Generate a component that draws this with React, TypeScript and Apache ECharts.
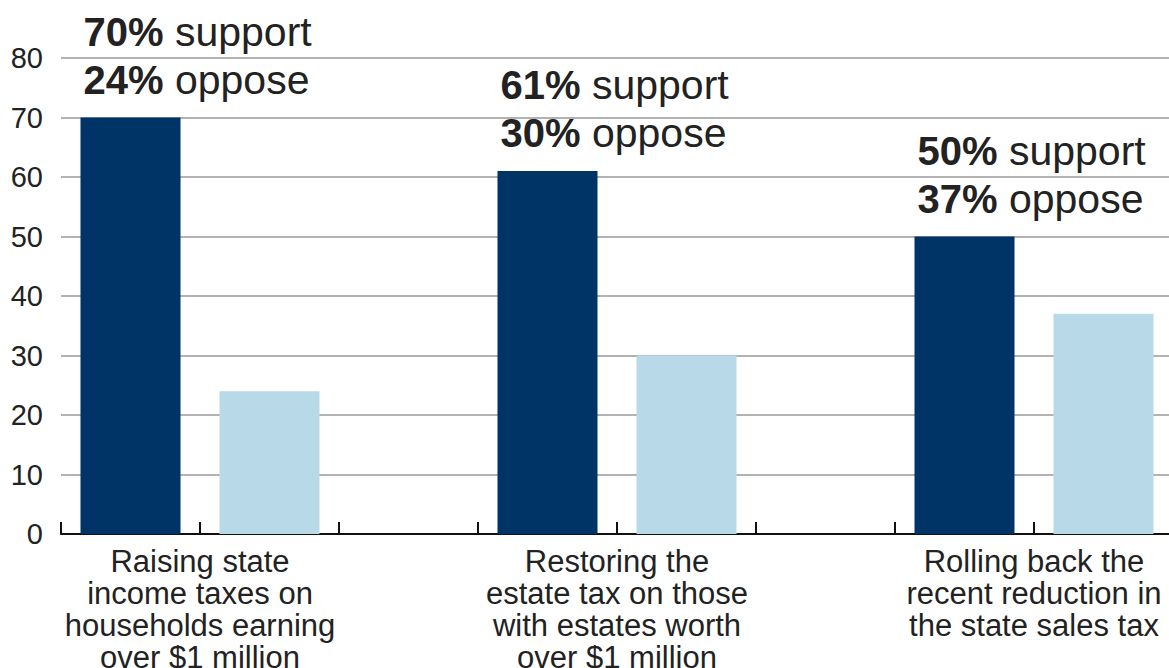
import React, { useEffect, useRef } from "react";
import * as echarts from "echarts";

const categories = [
  "Raising state\nincome taxes on\nhouseholds earning\nover $1 million",
  "Restoring the\nestate tax on those\nwith estates worth\nover $1 million",
  "Rolling back the\nrecent reduction in\nthe state sales tax",
];
const support = [70, 61, 50];
const oppose = [24, 30, 37];
// slot positions on the x scale (each question takes 3 slots: support, oppose, gap)
const supportSlots = [0.5, 3.5, 6.5];
const opposeSlots = [1.5, 4.5, 7.5];
const labelSlots = [1, 4, 7];
const yTicks = [0, 10, 20, 30, 40, 50, 60, 70, 80];

const DARK = "#003366";
const LIGHT = "#b8d9e8";
const FONT = "'Liberation Sans', Arial, Helvetica, sans-serif";

export default function App() {
  const ref = useRef<HTMLDivElement>(null);
  useEffect(() => {
    if (!ref.current) return;
    const chart = echarts.init(ref.current, undefined, { renderer: "svg" });
    const data: any[] = [];
    support.forEach((v, i) => {
      data.push({
        value: [supportSlots[i], v],
        itemStyle: { color: DARK },
        label: {
          show: true,
          position: "top",
          align: "left",
          distance: 14,
          offset: [-47, 0],
          formatter: `{b|${v}%}{r| support}\n{b|${oppose[i]}%}{r| oppose}`,
          rich: {
            b: { fontFamily: FONT, fontSize: 40, fontWeight: "bold", color: "#222", lineHeight: 48 },
            r: { fontFamily: FONT, fontSize: 41, color: "#222", lineHeight: 48 },
          },
        },
      });
    });
    oppose.forEach((v, i) => {
      data.push({ value: [opposeSlots[i], v], itemStyle: { color: LIGHT } });
    });
    chart.setOption({
      animation: false,
      grid: { left: 61, right: -4, top: 58, bottom: 134, containLabel: false, outerBoundsMode: "none" },
      xAxis: {
        type: "value",
        min: 0,
        max: 8,
        interval: 1,
        axisLine: { show: true, lineStyle: { color: "#111", width: 2 } },
        axisTick: { show: true, inside: true, length: 12, lineStyle: { color: "#111", width: 2 } },
        splitLine: { show: false },
        axisLabel: {
          show: true,
          margin: 11,
          fontFamily: FONT,
          fontSize: 31,
          lineHeight: 32,
          color: "#222",
          align: "center",
          verticalAlign: "top",
          showMinLabel: true,
          showMaxLabel: true,
          hideOverlap: false,
          formatter: (val: number) => {
            const idx = labelSlots.indexOf(Math.round(val));
            return idx >= 0 && Math.abs(val - labelSlots[idx]) < 1e-6 ? categories[idx] : "";
          },
        },
      },
      yAxis: {
        type: "value",
        min: yTicks[0],
        max: yTicks[yTicks.length - 1],
        interval: 10,
        axisLine: { show: false },
        axisTick: { show: false },
        splitLine: { show: true, lineStyle: { color: "#999", width: 1.5 } },
        axisLabel: { margin: 18, fontFamily: FONT, fontSize: 29, color: "#222" },
      },
      series: [
        {
          type: "bar",
          barWidth: 100,
          data,
          z: 3,
        },
      ],
    });
    return () => chart.dispose();
  }, []);
  return (
    <div
      ref={ref}
      style={{ position: "fixed", left: 0, top: 0, width: 1169, height: 668, background: "#fff" }}
    />
  );
}
